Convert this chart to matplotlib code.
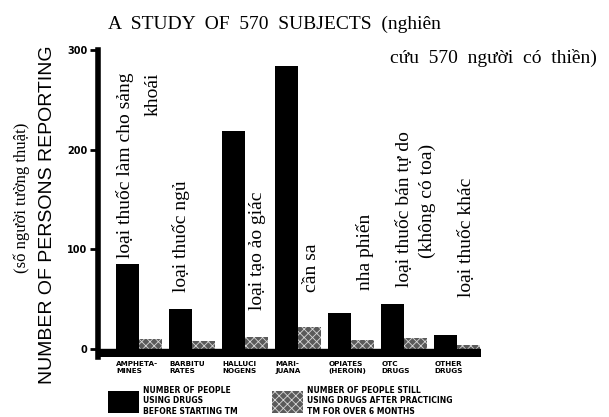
import matplotlib
matplotlib.use("Agg")
import matplotlib.pyplot as plt
from matplotlib.patches import Patch

categories = ["AMPHETA-\nMINES", "BARBITU\nRATES", "HALLUCI\nNOGENS", "MARI-\nJUANA",
              "OPIATES\n(HEROIN)", "OTC\nDRUGS", "OTHER\nDRUGS"]
before_tm = [85, 40, 219, 284, 36, 45, 14]
after_tm = [10, 8, 12, 22, 9, 11, 4]
yticks = [0, 100, 200, 300]
legend_labels = ["NUMBER OF PEOPLE\nUSING DRUGS\nBEFORE STARTING TM",
                 "NUMBER OF PEOPLE STILL\nUSING DRUGS AFTER PRACTICING\nTM FOR OVER 6 MONTHS"]
viet_labels = ["loại thuốc làm cho sảng", "loại thuốc ngủ", "loại tạo ảo giác", "cần sa",
               "nha phiến", "loại thuốc bán tự do", "loại thuốc khác"]

plt.rcParams['hatch.color'] = '#d8d8d8'
plt.rcParams['hatch.linewidth'] = 0.6

W, H = 609, 417
fig = plt.figure(figsize=(W / 100, H / 100), dpi=100)
fig.patch.set_facecolor('white')

def fx(px):
    return px / W

def fy(py):
    return 1 - py / H

ax = fig.add_axes([fx(98), fy(357), fx(481) - fx(98), fy(50) - fy(357)])
ax.set_xlim(-0.774, 6.45)
ax.set_ylim(-8, 300)

x = list(range(len(categories)))
bw = 0.43
ax.bar([i - bw / 2 for i in x], before_tm, width=bw, color='black', linewidth=0, zorder=3)
ax.bar([i + bw / 2 for i in x], after_tm, width=bw, color='#5a5a5a', edgecolor='#d8d8d8',
       hatch='xxxx', linewidth=0, zorder=3)

# thick baseline band
ax.axhspan(-8, 0, color='black', zorder=4)

for s in ['top', 'right', 'bottom']:
    ax.spines[s].set_visible(False)
ax.spines['left'].set_linewidth(4)
ax.spines['left'].set_bounds(-8, 300)
ax.set_yticks(yticks)
ax.set_yticklabels([str(v) for v in yticks], fontsize=7, fontweight='bold',
                   family='DejaVu Sans')
ax.tick_params(axis='y', length=6, width=2, pad=1.5)
ax.set_xticks([])

# category labels under bars, left aligned with black bars
for i, lab in enumerate(categories):
    ax.text(i - bw, -12, lab, ha='left', va='top', fontsize=5.2, fontweight='bold',
            family='DejaVu Sans', linespacing=1.15)

serif = ['Liberation Serif', 'DejaVu Serif']
vfs = 14
# Vietnamese annotations (rotated)
ax.text(-0.264, 91, viet_labels[0], rotation=90, ha='center', va='bottom', fontsize=vfs, family=serif)
ax.text(0.274, 277, "khoái", rotation=90, ha='center', va='top', fontsize=vfs, family=serif)
ax.text(0.79, 57, viet_labels[1], rotation=90, ha='center', va='bottom', fontsize=vfs, family=serif)
ax.text(2.236, 39, viet_labels[2], rotation=90, ha='center', va='bottom', fontsize=vfs, family=serif)
ax.text(3.255, 57, viet_labels[3], rotation=90, ha='center', va='bottom', fontsize=vfs, family=serif)
ax.text(4.264, 59, viet_labels[4], rotation=90, ha='center', va='bottom', fontsize=vfs, family=serif)
ax.text(5.01, 62, viet_labels[5], rotation=90, ha='center', va='bottom', fontsize=vfs, family=serif)
ax.text(5.443, 149, "(không có toa)", rotation=90, ha='center', va='center', fontsize=vfs, family=serif)
ax.text(6.18, 52, viet_labels[6], rotation=90, ha='center', va='bottom', fontsize=vfs, family=serif)

# y-axis labels
fig.text(fx(48), fy(215), "NUMBER OF PERSONS REPORTING", rotation=90, ha='center', va='center',
         fontsize=14, family=['Liberation Sans', 'DejaVu Sans'])
fig.text(fx(22), fy(198), "(số người tường thuật)", rotation=90, ha='center', va='center',
         fontsize=12, family=serif)

# title
fig.text(fx(108), fy(29), "A  STUDY  OF  570  SUBJECTS  (nghiên", ha='left', va='baseline',
         fontsize=14, family=serif)
fig.text(fx(597), fy(63), "cứu  570  người  có  thiền)", ha='right', va='baseline',
         fontsize=14, family=serif)

# legend
handles = [Patch(facecolor='black', linewidth=0),
           Patch(facecolor='#5a5a5a', edgecolor='#d8d8d8', hatch='xxxx', linewidth=0)]
leg = fig.legend(handles, legend_labels, loc='upper left', bbox_to_anchor=(fx(108), fy(386)),
                 ncol=2, frameon=False, borderpad=0, borderaxespad=0,
                 prop={'family': 'DejaVu Sans', 'weight': 'bold', 'size': 5.5},
                 handlelength=4.0, handleheight=4.0, handletextpad=0.6, columnspacing=4.5)

fig.savefig("out.png", dpi=100, facecolor='white')
